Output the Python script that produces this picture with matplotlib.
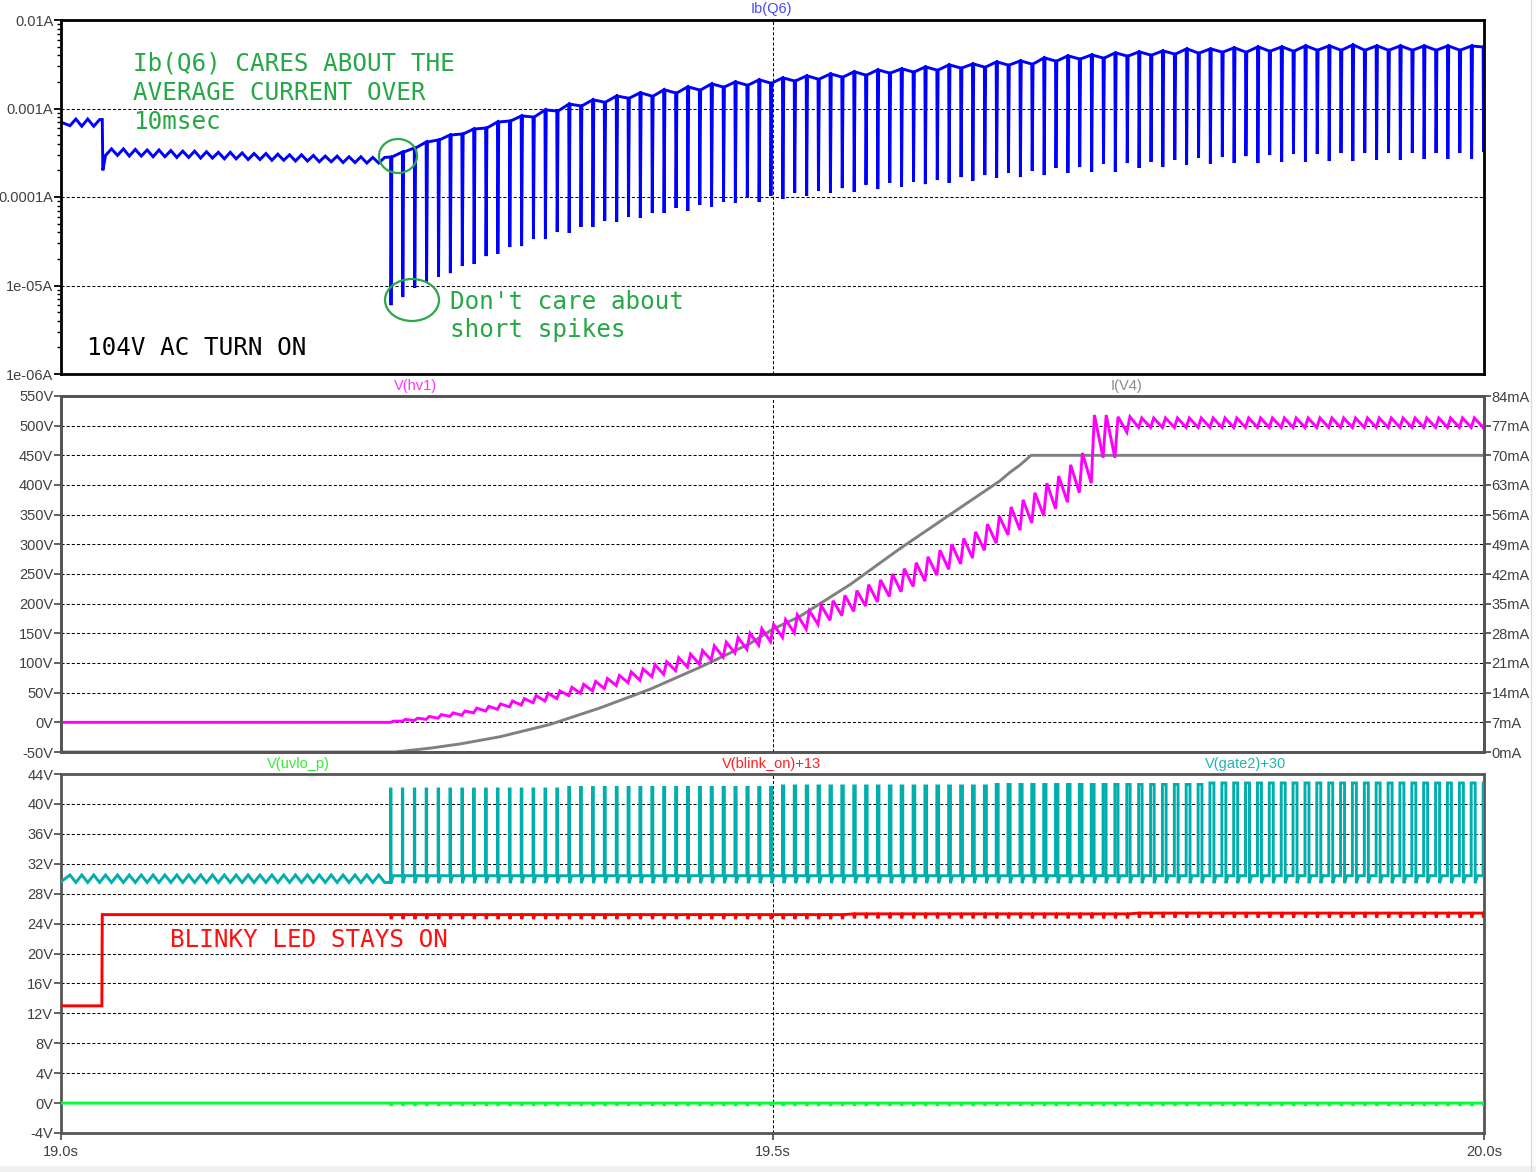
import numpy as np
import matplotlib
matplotlib.use('Agg')
import matplotlib.pyplot as plt
from matplotlib.patches import Ellipse, Rectangle
from matplotlib.lines import Line2D
from matplotlib.ticker import FixedLocator, NullFormatter

# ---------------------------------------------------------------- data
x_range = [19.0, 20.0]
x_ticks = [19.0, 19.5, 20.0]
x_tick_labels = ['19.0s', '19.5s', '20.0s']

ib_ticks = [1e-6, 1e-5, 1e-4, 1e-3, 1e-2]
ib_tick_labels = ['1e-06A', '1e-05A', '0.0001A', '0.001A', '0.01A']
hv_ticks = [-50, 0, 50, 100, 150, 200, 250, 300, 350, 400, 450, 500, 550]
hv_tick_labels = ['-50V', '0V', '50V', '100V', '150V', '200V', '250V', '300V',
                  '350V', '400V', '450V', '500V', '550V']
iv4_ticks = [0, 7, 14, 21, 28, 35, 42, 49, 56, 63, 70, 77, 84]
iv4_tick_labels = ['0mA', '7mA', '14mA', '21mA', '28mA', '35mA', '42mA', '49mA',
                   '56mA', '63mA', '70mA', '77mA', '84mA']
v3_ticks = [-4, 0, 4, 8, 12, 16, 20, 24, 28, 32, 36, 40, 44]
v3_tick_labels = ['-4V', '0V', '4V', '8V', '12V', '16V', '20V', '24V', '28V',
                  '32V', '36V', '40V', '44V']

# mains ripple cycles before the converter starts (s)
pre_cycle_t = [19.0063, 19.0146, 19.0230, 19.0313, 19.0397, 19.0480, 19.0564, 19.0647,
               19.0730, 19.0814, 19.0897, 19.0981, 19.1064, 19.1148, 19.1231, 19.1315,
               19.1398, 19.1482, 19.1565, 19.1648, 19.1732, 19.1815, 19.1899, 19.1982,
               19.2066, 19.2149, 19.2233]
# switching events (s)
spike_t = [19.2316, 19.2399, 19.2483, 19.2566, 19.2650, 19.2733, 19.2817, 19.2900, 19.2984, 19.3067,
           19.3151, 19.3234, 19.3317, 19.3401, 19.3484, 19.3568, 19.3651, 19.3735, 19.3818, 19.3902,
           19.3985, 19.4068, 19.4152, 19.4235, 19.4319, 19.4402, 19.4486, 19.4569, 19.4653, 19.4736,
           19.4820, 19.4903, 19.4986, 19.5070, 19.5153, 19.5237, 19.5320, 19.5404, 19.5487, 19.5571,
           19.5654, 19.5737, 19.5821, 19.5904, 19.5988, 19.6071, 19.6155, 19.6238, 19.6322, 19.6405,
           19.6489, 19.6572, 19.6655, 19.6739, 19.6822, 19.6906, 19.6989, 19.7073, 19.7156, 19.7240,
           19.7323, 19.7406, 19.7490, 19.7573, 19.7657, 19.7740, 19.7824, 19.7907, 19.7991, 19.8074,
           19.8158, 19.8241, 19.8324, 19.8408, 19.8491, 19.8575, 19.8658, 19.8742, 19.8825, 19.8909,
           19.8992, 19.9075, 19.9159, 19.9242, 19.9326, 19.9409, 19.9493, 19.9576, 19.9660, 19.9743,
           19.9827, 19.9910, 19.9994]

# Ib(Q6) (A)
ib_start = 7.0e-4
ib_step_t = 19.0290
ib_step_dip = 2.0e-4
ib_pre_hi = [7.6e-4, 7.6e-4, 7.5e-4, 3.5e-4, 3.5e-4, 3.45e-4, 3.4e-4, 3.4e-4, 3.35e-4, 3.3e-4,
             3.3e-4, 3.25e-4, 3.2e-4, 3.2e-4, 3.15e-4, 3.1e-4, 3.1e-4, 3.05e-4, 3.0e-4, 3.0e-4,
             2.95e-4, 2.9e-4, 2.9e-4, 2.85e-4, 2.85e-4, 2.8e-4, 2.8e-4]
ib_pre_lo = [6.4e-4, 6.3e-4, 6.3e-4, 2.95e-4, 2.95e-4, 2.9e-4, 2.9e-4, 2.85e-4, 2.85e-4, 2.8e-4,
             2.8e-4, 2.75e-4, 2.75e-4, 2.7e-4, 2.7e-4, 2.65e-4, 2.65e-4, 2.6e-4, 2.6e-4, 2.55e-4,
             2.55e-4, 2.5e-4, 2.5e-4, 2.45e-4, 2.45e-4, 2.42e-4, 2.42e-4]
ib_spike_top = [2.83e-4, 3.22e-4, 3.58e-4, 4.18e-4, 4.41e-4, 5.02e-4, 5.15e-4, 5.87e-4, 6.02e-4, 7.04e-4,
                7.22e-4, 8.23e-4, 8.01e-4, 9.62e-4, 9.37e-4, 1.12e-3, 1.07e-3, 1.25e-3, 1.18e-3, 1.38e-3,
                1.31e-3, 1.50e-3, 1.38e-3, 1.62e-3, 1.50e-3, 1.75e-3, 1.62e-3, 1.89e-3, 1.75e-3, 1.99e-3,
                1.84e-3, 2.10e-3, 1.94e-3, 2.21e-3, 2.05e-3, 2.33e-3, 2.15e-3, 2.45e-3, 2.27e-3, 2.59e-3,
                2.39e-3, 2.72e-3, 2.52e-3, 2.80e-3, 2.59e-3, 2.94e-3, 2.72e-3, 3.10e-3, 2.87e-3, 3.18e-3,
                2.94e-3, 3.35e-3, 3.10e-3, 3.44e-3, 3.18e-3, 3.72e-3, 3.44e-3, 3.92e-3, 3.63e-3, 4.02e-3,
                3.72e-3, 4.24e-3, 3.92e-3, 4.35e-3, 4.02e-3, 4.46e-3, 4.13e-3, 4.70e-3, 4.24e-3, 4.70e-3,
                4.35e-3, 4.83e-3, 4.35e-3, 4.95e-3, 4.46e-3, 4.95e-3, 4.46e-3, 5.08e-3, 4.58e-3, 5.08e-3,
                4.58e-3, 5.21e-3, 4.58e-3, 5.08e-3, 4.58e-3, 5.08e-3, 4.58e-3, 5.08e-3, 4.58e-3, 5.08e-3,
                4.58e-3, 5.08e-3, 4.95e-3]
ib_spike_bot = [6.0e-6, 7.4e-6, 9.4e-6, 1.10e-5, 1.25e-5, 1.38e-5, 1.66e-5, 1.75e-5, 2.15e-5, 2.27e-5,
                2.72e-5, 2.79e-5, 3.35e-5, 3.35e-5, 4.02e-5, 3.92e-5, 4.58e-5, 4.58e-5, 5.36e-5, 5.22e-5,
                5.94e-5, 5.79e-5, 6.59e-5, 6.59e-5, 7.51e-5, 6.95e-5, 8.12e-5, 7.71e-5, 8.78e-5, 8.56e-5,
                9.74e-5, 8.78e-5, 1.03e-4, 9.49e-5, 1.11e-4, 1.03e-4, 1.17e-4, 1.11e-4, 1.26e-4, 1.14e-4,
                1.37e-4, 1.23e-4, 1.44e-4, 1.30e-4, 1.48e-4, 1.40e-4, 1.56e-4, 1.44e-4, 1.68e-4, 1.52e-4,
                1.77e-4, 1.64e-4, 1.87e-4, 1.68e-4, 1.97e-4, 1.77e-4, 2.13e-4, 1.87e-4, 2.18e-4, 1.92e-4,
                2.36e-4, 1.92e-4, 2.42e-4, 2.13e-4, 2.49e-4, 2.18e-4, 2.62e-4, 2.30e-4, 2.76e-4, 2.36e-4,
                2.83e-4, 2.42e-4, 2.90e-4, 2.42e-4, 2.98e-4, 2.49e-4, 3.06e-4, 2.49e-4, 3.06e-4, 2.55e-4,
                3.14e-4, 2.55e-4, 3.14e-4, 2.62e-4, 3.14e-4, 2.62e-4, 3.14e-4, 2.69e-4, 3.14e-4, 2.69e-4,
                3.14e-4, 2.69e-4, 3.22e-4]

# V(hv1) (V): value at each switching event and the peak just after it
hv_trough = [0, 2, 3, 5, 7, 10, 12, 16, 19, 22,
             26, 29, 33, 36, 40, 45, 49, 53, 57, 62,
             67, 71, 77, 81, 87, 93, 98, 105, 110, 117,
             123, 130, 136, 143, 151, 157, 165, 172, 180, 187,
             196, 203, 212, 220, 229, 238, 248, 258, 267, 277,
             290, 302, 316, 324, 336, 348, 360, 371, 387, 403,
             446, 446, 489, 497, 497, 497, 497, 497, 497, 497,
             497, 497, 497, 497, 497, 497, 497, 497, 497, 497,
             497, 497, 497, 497, 497, 497, 497, 497, 497, 497,
             497, 497, 497]
hv_peak = [2, 5, 7, 10, 13, 16, 19, 24, 27, 31,
           36, 40, 45, 49, 53, 59, 64, 69, 74, 79,
           85, 90, 97, 102, 109, 115, 121, 129, 135, 143,
           150, 158, 165, 173, 181, 188, 197, 205, 214, 222,
           232, 240, 250, 259, 269, 279, 290, 300, 310, 321,
           334, 347, 363, 375, 387, 403, 415, 434, 454, 518,
           518, 515, 515, 513, 513, 513, 513, 513, 513, 513,
           513, 513, 513, 513, 513, 513, 513, 513, 513, 513,
           513, 513, 513, 513, 513, 513, 513, 513, 513, 513,
           513, 513, 513]

# I(V4) (mA)
iv4_t = [19.0, 19.2347, 19.2593, 19.2804, 19.3085, 19.3436, 19.3788, 19.4139, 19.4491,
         19.4842, 19.5003, 19.5193, 19.5545, 19.5896, 19.6247, 19.6599, 19.6669, 19.6739,
         19.6817, 20.0]
iv4_ma = [0, 0, 0.9, 1.9, 3.6, 6.5, 10.4, 14.8, 20.0,
          25.6, 29.0, 32.0, 39.5, 48.0, 56.0, 64.0, 66.0, 67.7,
          70.0, 70.0]

# V(gate2)+30 (V)
gate_start = 29.6
gate_pre_hi = 30.5
gate_pre_lo = 29.5
gate_base = 30.4
gate_low = 29.4
gate_top_t = [19.0, 19.35, 19.5, 19.65, 19.8]
gate_top_v = [42.0, 42.2, 42.4, 42.6, 42.8]
gate_width_ms = [0.3, 0.3, 0.3, 0.35, 0.35, 0.4, 0.4, 0.4, 0.45, 0.45,
                 0.5, 0.5, 0.5, 0.55, 0.55, 0.6, 0.6, 0.6, 0.65, 0.65,
                 0.7, 0.7, 0.7, 0.75, 0.75, 0.8, 0.8, 0.8, 0.85, 0.85,
                 0.9, 0.9, 0.9, 0.95, 0.95, 1.0, 1.0, 1.0, 1.05, 1.05,
                 1.1, 1.1, 1.15, 1.15, 1.2, 1.2, 1.25, 1.25, 1.3, 1.3,
                 1.4, 1.4, 1.5, 1.5, 1.6, 1.6, 1.7, 1.8, 1.9, 2.0,
                 2.1, 2.2, 2.3, 2.4, 2.5, 2.6, 2.6, 2.7, 2.7, 2.8,
                 2.8, 2.8, 2.8, 2.8, 2.8, 2.8, 2.8, 2.8, 2.8, 2.8,
                 2.8, 2.8, 2.8, 2.8, 2.8, 2.8, 2.8, 2.8, 2.8, 2.8,
                 2.8, 2.8, 2.8]

# V(blink_on)+13 (V)
blink_low = 13.0
blink_step_t = 19.0287
blink_level_t = [19.0, 19.55, 19.75]
blink_level_v = [25.2, 25.3, 25.4]
blink_dip = 0.6

# V(uvlo_p) (V)
uvlo_level = 0.0
uvlo_dip = 0.35

# ---------------------------------------------------------------- style
W, H = 1536, 1172
plt.rcParams['font.family'] = ['Liberation Sans', 'DejaVu Sans']
plt.rcParams['lines.scale_dashes'] = False
plt.rcParams['lines.solid_joinstyle'] = 'miter'

fig = plt.figure(figsize=(W / 100, H / 100), dpi=100)
fig.patch.set_facecolor('white')


def px_rect(x0, y0, x1, y1):
    return [x0 / W, 1 - y1 / H, (x1 - x0) / W, (y1 - y0) / H]


ax1 = fig.add_axes(px_rect(61, 20, 1484, 374))
ax2 = fig.add_axes(px_rect(61, 396, 1484, 752))
ax3 = fig.add_axes(px_rect(61, 774, 1484, 1133))

LABEL_C = '#404040'
GRID_LS = (0, (2.2, 1.5))
TRACE_LW = 2.1


def style(ax, frame_color, show_x):
    for s in ax.spines.values():
        s.set_color(frame_color)
        s.set_linewidth(2.0)
    ax.set_xlim(*x_range)
    ax.set_xticks(x_ticks)
    ax.set_xticklabels(x_tick_labels if show_x else [])
    ax.tick_params(axis='both', which='both', direction='out', color=frame_color,
                   labelcolor=LABEL_C, labelsize=10.5, pad=0.5)
    ax.tick_params(axis='y', which='major', length=5, width=1.3)
    ax.tick_params(axis='y', which='minor', length=3, width=1.0)
    ax.tick_params(axis='x', which='major', length=5 if show_x else 0, width=1.3, pad=3.5)
    ax.grid(True, which='major', color='black', linestyle=GRID_LS, linewidth=0.75)


# ---------------------------------------------------------------- top: Ib(Q6)
style(ax1, 'black', False)
ax1.set_yscale('log')
ax1.set_ylim(ib_ticks[0], ib_ticks[-1])
ax1.yaxis.set_major_locator(FixedLocator(ib_ticks))
ax1.set_yticklabels(ib_tick_labels)
ax1.yaxis.set_minor_locator(FixedLocator([m * d for d in ib_ticks[:-1] for m in range(2, 10)]))
ax1.yaxis.set_minor_formatter(NullFormatter())

t, v = [x_range[0]], [ib_start]
n = len(pre_cycle_t)
for m in range(n):
    tm = pre_cycle_t[m]
    tn = pre_cycle_t[m + 1] if m + 1 < n else spike_t[0]
    if t[-1] < ib_step_t < tm:
        t += [ib_step_t, ib_step_t + 0.0004]
        v += [v[-1], ib_step_dip]
    t += [tm, (tm + tn) / 2]
    v += [ib_pre_lo[m], ib_pre_hi[m]]
for k, tk in enumerate(spike_t):
    t += [tk, tk + 0.0003, tk + 0.0009]
    v += [ib_spike_top[k], ib_spike_bot[k], ib_spike_top[k]]
t.append(x_range[1]); v.append(ib_spike_top[-1])
ax1.plot(t, v, color='#0000ff', lw=TRACE_LW)

# ---------------------------------------------------------------- middle: V(hv1), I(V4)
style(ax2, '#555555', False)
ax2.set_ylim(hv_ticks[0], hv_ticks[-1])
ax2.set_yticks(hv_ticks)
ax2.set_yticklabels(hv_tick_labels)
ax2r = ax2.twinx()
ax2r.set_ylim(iv4_ticks[0], iv4_ticks[-1])
ax2r.set_yticks(iv4_ticks)
ax2r.set_yticklabels(iv4_tick_labels)
for s in ax2r.spines.values():
    s.set_color('#555555')
    s.set_linewidth(2.0)
ax2r.tick_params(axis='y', direction='out', color='#555555', labelcolor=LABEL_C,
                 labelsize=10.5, pad=0.5, length=5, width=1.3)

ax2.plot(iv4_t, iv4_ma, color='#808080', lw=TRACE_LW, transform=ax2r.transData, zorder=2)

t, v = [x_range[0], spike_t[0]], [0.0, 0.0]
for k, tk in enumerate(spike_t):
    t += [tk, tk + 0.0022]
    v += [hv_trough[k], hv_peak[k]]
t.append(x_range[1]); v.append(hv_trough[-1])
ax2.plot(t, v, color='#ff00ff', lw=TRACE_LW, zorder=3)

# ---------------------------------------------------------------- bottom
style(ax3, '#555555', True)
ax3.set_ylim(v3_ticks[0], v3_ticks[-1])
ax3.set_yticks(v3_ticks)
ax3.set_yticklabels(v3_tick_labels)


def level_at(tt, lt, lv):
    val = lv[0]
    for a, b in zip(lt, lv):
        if tt >= a:
            val = b
    return val


# gate2 + 30
t, v = [x_range[0]], [gate_start]
for m in range(n):
    tm = pre_cycle_t[m]
    tn = pre_cycle_t[m + 1] if m + 1 < n else spike_t[0]
    t += [tm, (tm + tn) / 2]
    v += [gate_pre_hi, gate_pre_lo]
cur = v[-1]
for k, tk in enumerate(spike_t):
    w = gate_width_ms[k] / 1000.0
    top = level_at(tk, gate_top_t, gate_top_v)
    t += [tk, tk, tk + w, tk + w, tk + w + 0.0015]
    v += [cur, top, top, gate_low, gate_base]
    cur = gate_base
t.append(x_range[1]); v.append(cur)
ax3.plot(t, v, color='#00aeae', lw=TRACE_LW, zorder=3)

# blink_on + 13
lvl0 = level_at(blink_step_t, blink_level_t, blink_level_v)
t = [x_range[0], blink_step_t, blink_step_t + 0.0003]
v = [blink_low, blink_low, lvl0]
for tk in spike_t:
    lv = level_at(tk, blink_level_t, blink_level_v)
    t += [tk, tk + 0.0004, tk + 0.0012]
    v += [lv, lv - blink_dip, lv]
t.append(x_range[1]); v.append(v[-1])
ax3.plot(t, v, color='#ff0000', lw=TRACE_LW, zorder=4)

# uvlo_p
t, v = [x_range[0]], [uvlo_level]
for tk in spike_t:
    t += [tk, tk + 0.0004, tk + 0.0012]
    v += [uvlo_level, uvlo_level - uvlo_dip, uvlo_level]
t.append(x_range[1]); v.append(uvlo_level)
ax3.plot(t, v, color='#00ff33', lw=TRACE_LW, zorder=4)

# ---------------------------------------------------------------- trace names
def ftext(x, y, s, **kw):
    fig.text(x / W, 1 - y / H, s, **kw)


name_kw = dict(fontsize=10.5, ha='center', va='center')
ftext(771, 9, 'Ib(Q6)', color='#4646ff', **name_kw)
ftext(416, 386, 'V(hv1)', color='#ff33ff', **name_kw)
ftext(1126, 386, 'I(V4)', color='#8a8a8a', **name_kw)
ftext(298, 764, 'V(uvlo_p)', color='#33ee33', **name_kw)
ftext(771, 764, 'V(blink_on)+13', color='#ff2020', **name_kw)
ftext(1246, 764, 'V(gate2)+30', color='#20b4b4', **name_kw)

# ---------------------------------------------------------------- annotations
ANN_GREEN = '#25a845'
ann_kw = dict(fontsize=17.5, family=['DejaVu Sans Mono'], ha='left', va='baseline')
ftext(133, 70, 'Ib(Q6) CARES ABOUT THE', color=ANN_GREEN, **ann_kw)
ftext(133, 100, 'AVERAGE CURRENT OVER', color=ANN_GREEN, **ann_kw)
ftext(133, 129, '10msec', color=ANN_GREEN, **ann_kw)
ftext(450, 309, "Don't care about", color=ANN_GREEN, **ann_kw)
ftext(450, 337, 'short spikes', color=ANN_GREEN, **ann_kw)
ftext(87, 355, '104V AC TURN ON', color='black', **ann_kw)
ftext(170, 947, 'BLINKY LED STAYS ON', color='#ff1010', **ann_kw)

for cx, cy, ew, eh in [(398, 156, 38, 34), (412, 300, 54, 42)]:
    fig.patches.append(Ellipse((cx / W, 1 - cy / H), ew / W, eh / H, fill=False,
                               edgecolor='#2aa84a', lw=1.6, transform=fig.transFigure,
                               figure=fig, zorder=10))

# screenshot border remnants
fig.add_artist(Line2D([1531 / W, 1531 / W], [0, 1], color='#dcdcdc', lw=1.0))
fig.patches.append(Rectangle((0, 0), 1, 6 / H, color='#f0f0f0', transform=fig.transFigure,
                             figure=fig, zorder=0))

fig.savefig('out.png', dpi=100, facecolor='white')
